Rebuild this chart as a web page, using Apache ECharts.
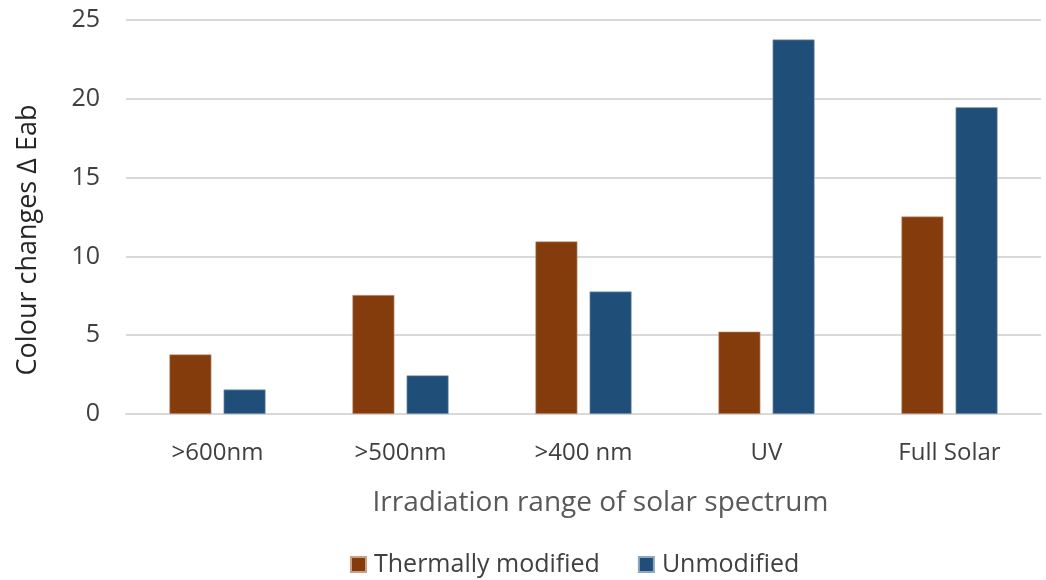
<!DOCTYPE html>
<html><head><meta charset="utf-8">
<script src="https://cdn.jsdelivr.net/npm/echarts@6/dist/echarts.min.js"></script>
<style>html,body{margin:0;padding:0;background:#fff}#c{width:1046px;height:580px}</style>
</head><body><div id="c"></div>
<script>
const categories = ['>600nm', '>500nm', '>400 nm', 'UV', 'Full Solar'];
const thermallyModified = [3.78, 7.55, 10.95, 5.23, 12.53];
const unmodified = [1.55, 2.45, 7.77, 23.76, 19.46];
const yTicks = {min: 0, max: 25, interval: 5};

const chart = echarts.init(document.getElementById('c'));
const font = 'Open Sans';
chart.setOption({
  animation: false,
  textStyle: {fontFamily: font},
  grid: {left: 126, right: 5, top: 20, bottom: 166},
  legend: {
    top: 547, left: 345,
    itemWidth: 15, itemHeight: 15, itemGap: 38,
    icon: 'rect',
    textStyle: {fontSize: 25, color: '#404040', fontFamily: font, padding: [0, 0, 0, 3]},
    data: ['Thermally modified', 'Unmodified']
  },
  xAxis: {
    type: 'category', data: categories,
    axisLine: {lineStyle: {color: '#d9d9d9', width: 2}},
    axisTick: {show: false},
    axisLabel: {fontSize: 24, color: '#404040', margin: 27, fontFamily: font},
    name: 'Irradiation range of solar spectrum',
    nameLocation: 'middle', nameGap: 75,
    nameTextStyle: {fontSize: 28, color: '#595959', fontFamily: font, padding: [0, 0, 0, 34]}
  },
  yAxis: {
    type: 'value', min: yTicks.min, max: yTicks.max, interval: yTicks.interval,
    axisLine: {show: false}, axisTick: {show: false},
    splitLine: {lineStyle: {color: '#d9d9d9', width: 2}},
    axisLabel: {fontSize: 25, color: '#404040', margin: 26, fontFamily: font},
    name: 'Colour changes \u2206 Eab',
    nameLocation: 'middle', nameGap: 84, nameRotate: 90,
    nameTextStyle: {fontSize: 27, color: '#262626', fontFamily: font, padding: [0, 46, 0, 0]}
  },
  series: [
    {name: 'Thermally modified', type: 'bar', data: thermallyModified,
     barWidth: 42, barGap: '29%',
     itemStyle: {color: '#843C0C', borderColor: '#c9a08a', borderWidth: 0.6}},
    {name: 'Unmodified', type: 'bar', data: unmodified,
     barWidth: 42, barGap: '29%',
     itemStyle: {color: '#1F4E79', borderColor: '#8fa6bd', borderWidth: 0.6}}
  ]
});
</script></body></html>
